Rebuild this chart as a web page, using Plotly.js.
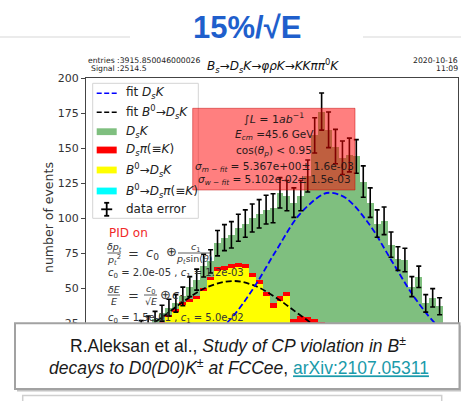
<!DOCTYPE html>
<html>
<head>
<meta charset="utf-8">
<script src="https://cdn.plot.ly/plotly-3.0.1.min.js"></script>
<style>
  html, body { margin: 0; padding: 0; background: #ffffff; }
  #chart { width: 461px; height: 401px; }
</style>
</head>
<body>
<div id="chart"></div>
<script>
// ---- histogram binning (invariant mass, GeV) ----
const binStart = 5.2;
const binWidth = 0.006;
const binCount = 44;

// ---- per-bin yields of the stacked components (bottom to top) ----
const b0DsK = [16, 19, 22, 25, 29, 33, 38, 40, 42, 48, 56, 62, 63, 64, 65, 64, 58, 53, 44, 36, 41, 44,
               20, 21, 20, 19, 17, 14, 12, 10, 8, 6, 5, 4, 3, 2, 2, 1, 1, 0, 0, 0, 0, 0];
const b0DsPi = [0, 0, 0, 0, 0, 0, 0, 0, 0, 0, 0, 0, 0, 0, 0, 0, 0, 0, 0, 0, 0, 0,
                0, 0, 0, 0, 0, 0, 0, 0, 0, 0, 0, 0, 0, 0, 0, 0, 0, 0, 0, 0, 0, 0];
const dsPi = [1, 1, 1, 1, 2, 2, 2, 2, 2, 2, 2, 3, 3, 3, 3, 3, 3, 3, 3, 3, 3, 3,
              8, 9, 9, 9, 9, 9, 8, 7, 6, 5, 4, 3, 3, 2, 2, 1, 1, 1, 1, 0, 0, 0];
const dsK = [5, 5, 5, 6, 5, 4, 4, 9, 12, 16, 11, 17, 20, 21, 25, 29, 39, 47, 59, 68, 74, 69,
             83, 86, 101, 131, 150, 140, 131, 126, 131, 133, 117, 104, 90, 94, 77, 69, 68, 50, 57, 39, 43, 37];

// ---- fitted shapes, sampled along the mass axis ----
const fitDsKMass = [5.20, 5.22, 5.24, 5.26, 5.28, 5.30, 5.32, 5.34, 5.36, 5.367, 5.38, 5.40, 5.42, 5.44, 5.46, 5.48];
const fitDsKVal  = [0.6, 1.9, 5.3, 13.1, 27.5, 49.8, 77.2, 102.6, 116.9, 118, 114.2, 95.7, 68.8, 42.4, 22.4, 10.2];
const fitB0Mass  = [5.16, 5.18, 5.20, 5.22, 5.24, 5.26, 5.282, 5.30, 5.32, 5.34, 5.36, 5.38, 5.40];
const fitB0Val   = [4.3, 9.3, 17.4, 28.5, 40.6, 50.6, 55, 52, 42.9, 30.9, 19.4, 10.6, 5.1];

const yTicks = [25, 50, 75, 100, 125, 150, 175, 200];

// ---- derived: bin centres, stack totals and their statistical errors ----
const centres = [];
for (let i = 0; i < binCount; i++) centres.push(binStart + binWidth * (i + 0.5));
const totals = centres.map((_, i) => b0DsK[i] + b0DsPi[i] + dsPi[i] + dsK[i]);
const statErr = totals.map(v => Math.sqrt(v));

// ---- figure geometry (pixels) and paper-coordinate helpers ----
const W = 461, H = 401;
const PL = 86, PR = 458, PT = 78, PB = 358;
const fx = px => (px - PL) / (PR - PL);
const fy = py => (PB - py) / (PB - PT);

const MPL = 'DejaVu Sans';
const SLIDE = 'Liberation Sans';

function label(text, px, py, size, opts) {
  opts = opts || {};
  return {
    text: text, xref: 'paper', yref: 'paper', x: fx(px), y: fy(py),
    xanchor: opts.xa || 'center', yanchor: opts.ya || 'middle',
    showarrow: false, borderpad: 0, textangle: opts.angle || 0,
    font: { family: opts.family || MPL, size: size, color: opts.color || '#222' }
  };
}
function rect(x0, y0, x1, y1, fill, line, lw) {
  return { type: 'rect', xref: 'paper', yref: 'paper', layer: 'above',
           x0: fx(x0), x1: fx(x1), y0: fy(y0), y1: fy(y1),
           fillcolor: fill, line: { color: line || 'rgba(0,0,0,0)', width: lw || 0 } };
}
function seg(x0, y0, x1, y1, color, lw, dash) {
  return { type: 'line', xref: 'paper', yref: 'paper', layer: 'above',
           x0: fx(x0), x1: fx(x1), y0: fy(y0), y1: fy(y1),
           line: { color: color, width: lw, dash: dash || 'solid' } };
}

// ---- traces ----
const barCommon = { type: 'bar', x: centres, width: binWidth, hoverinfo: 'skip' };
const traces = [
  Object.assign({}, barCommon, { y: b0DsK, name: 'B0→DsK', marker: { color: '#ffff00', line: { width: 0 } } }),
  Object.assign({}, barCommon, { y: b0DsPi, name: 'B0→Dsπ(≡K)', marker: { color: '#00ffff', line: { width: 0 } } }),
  Object.assign({}, barCommon, { y: dsPi, name: 'Dsπ(≡K)', marker: { color: '#ff0000', line: { width: 0 } } }),
  Object.assign({}, barCommon, { y: dsK, name: 'DsK', marker: { color: '#7fbf7f', line: { width: 0 } } }),
  { type: 'scatter', mode: 'lines', x: fitB0Mass, y: fitB0Val, name: 'fit B0→DsK',
    line: { color: '#000000', width: 1.8, dash: '6px,3px', shape: 'spline', smoothing: 1 }, hoverinfo: 'skip' },
  { type: 'scatter', mode: 'lines', x: fitDsKMass, y: fitDsKVal, name: 'fit DsK',
    line: { color: '#0000ff', width: 1.8, dash: '6px,3px', shape: 'spline', smoothing: 1 }, hoverinfo: 'skip' },
  { type: 'scatter', mode: 'markers', x: centres, y: totals, name: 'data error',
    marker: { size: 1, color: 'rgba(0,0,0,0)' },
    error_y: { type: 'data', array: statErr, visible: true, color: '#000000', thickness: 1.6, width: 2.5 },
    hoverinfo: 'skip' }
];

// ---- decorations: legend, info box, caption, slide frame ----
const shapes = [];
const annotations = [];

// slide header rule
shapes.push(seg(0, 37, 130, 37, '#e4e4e4', 1.5));
shapes.push(seg(363, 37, 461, 37, '#e4e4e4', 1.5));

// legend frame
shapes.push(rect(92.7, 83.3, 198.3, 218.3, 'rgba(255,255,255,0.85)', '#d4d4d4', 1));
const legY = [93.3, 112.3, 131.7, 150, 170, 191, 209.3];
shapes.push(seg(96.7, legY[0], 116.7, legY[0], '#0000ff', 1.6, '5px,2.5px'));
shapes.push(seg(96.7, legY[1], 116.7, legY[1], '#000000', 1.6, '5px,2.5px'));
shapes.push(rect(96.7, legY[2] - 3.4, 116.7, legY[2] + 3.4, '#7fbf7f'));
shapes.push(rect(96.7, legY[3] - 3.4, 116.7, legY[3] + 3.4, '#ff0000'));
shapes.push(rect(96.7, legY[4] - 3.4, 116.7, legY[4] + 3.4, '#ffff00'));
shapes.push(rect(96.7, legY[5] - 3.4, 116.7, legY[5] + 3.4, '#00ffff'));
// error-bar glyph
shapes.push(seg(106.7, legY[6] - 6.5, 106.7, legY[6] + 6.5, '#000', 1.8));
shapes.push(seg(101.2, legY[6], 112.2, legY[6], '#000', 1.8));
shapes.push(seg(104.2, legY[6] - 6.5, 109.2, legY[6] - 6.5, '#000', 1.8));
shapes.push(seg(104.2, legY[6] + 6.5, 109.2, legY[6] + 6.5, '#000', 1.8));
const legText = [
  'fit <i>D<sub>s</sub>K</i>',
  'fit <i>B</i><sup>0</sup>→<i>D<sub>s</sub>K</i>',
  '<i>D<sub>s</sub>K</i>',
  '<i>D<sub>s</sub>π</i>(≡<i>K</i>)',
  '<i>B</i><sup>0</sup>→<i>D<sub>s</sub>K</i>',
  '<i>B</i><sup>0</sup>→<i>D<sub>s</sub>π</i>(≡<i>K</i>)',
  'data error'
];
legText.forEach((t, i) => annotations.push(label(t, 125, legY[i], 12, { xa: 'left' })));

// translucent information box
shapes.push(rect(192.7, 108.3, 355, 190, 'rgba(255,0,0,0.5)', 'rgba(190,0,0,0.45)', 1));
const boxC = 274, boxCol = '#2a1a1a';
annotations.push(label('∫<i>L</i> = 1<i>ab</i><sup>−1</sup>', boxC, 118.5, 11, { color: boxCol }));
annotations.push(label('<i>E<sub>cm</sub></i> =45.6 GeV', boxC, 135, 10.5, { color: boxCol }));
annotations.push(label('cos(<i>θ<sub>p</sub></i>) &lt; 0.95', boxC, 150.5, 10.5, { color: boxCol }));
annotations.push(label('<i>σ<sub>m − fit</sub></i> = 5.367e+00± 1.6e-03', boxC, 166.5, 10.5, { color: boxCol }));
annotations.push(label('<i>σ<sub>w − fit</sub></i> = 5.102e-02± 1.5e-03', boxC, 180, 10.5, { color: boxCol }));

// resolution parametrisation
const fcol = '#333333';
annotations.push(label('PID on', 108.3, 233, 12, { xa: 'left', color: '#f02828' }));
annotations.push(label('<i>δp<sub>t</sub></i>', 114, 247.5, 9.5, { color: fcol }));
shapes.push(seg(107.5, 253, 121, 253, fcol, 0.8));
annotations.push(label('<i>p<sub>t</sub></i><sup>2</sup>', 114, 259.5, 9.5, { color: fcol }));
annotations.push(label('=', 133, 253, 13, { color: fcol }));
annotations.push(label('<i>c</i><sub>0</sub>', 152, 253, 13, { color: fcol }));
annotations.push(label('⊕', 171, 251.5, 13, { color: fcol }));
annotations.push(label('<i>c</i><sub>1</sub>', 195, 247.5, 9.5, { color: fcol }));
shapes.push(seg(178, 253, 210, 253, fcol, 0.8));
annotations.push(label('<i>p<sub>t</sub></i>sin(<i>θ</i>)', 194, 259.5, 9.5, { color: fcol }));
annotations.push(label('<i>c</i><sub>0</sub> = 2.0e-05 , <i>c</i><sub>1</sub> = 1.2e-03', 106.7, 273.5, 10, { xa: 'left', color: fcol }));
annotations.push(label('<i>δE</i>', 113.5, 289.5, 9.5, { color: fcol }));
shapes.push(seg(107.5, 295, 120, 295, fcol, 0.8));
annotations.push(label('<i>E</i>', 113.5, 301.5, 9.5, { color: fcol }));
annotations.push(label('=', 133, 295, 13, { color: fcol }));
annotations.push(label('<i>c</i><sub>0</sub>', 150.5, 289.5, 9.5, { color: fcol }));
shapes.push(seg(144, 295, 157, 295, fcol, 0.8));
annotations.push(label('√<i>E</i>', 150.5, 301.5, 9.5, { color: fcol }));
annotations.push(label('⊕', 165, 294, 13, { color: fcol }));
annotations.push(label('<i>c</i><sub>1</sub>', 178, 295, 13, { color: fcol }));
annotations.push(label('<i>c</i><sub>0</sub> = 1.5e-01 , <i>c</i><sub>1</sub> = 5.0e-02', 106.7, 318, 10, { xa: 'left', color: fcol }));

// header texts
annotations.push(label('entries :3915.850046000026', 87.3, 60.5, 7.7, { xa: 'left', color: '#222' }));
annotations.push(label('Signal :2514.5', 89.5, 68.5, 7.7, { xa: 'left', color: '#222' }));
annotations.push(label('<i>B<sub>s</sub></i>→<i>D<sub>s</sub>K</i>→<i>φρK</i>→<i>KKππ</i><sup>0</sup><i>K</i>', 272.5, 66, 12, { color: '#111' }));
annotations.push(label('2020-10-16', 459, 60.5, 7.7, { xa: 'right', color: '#222' }));
annotations.push(label('11:09', 459, 68.5, 7.7, { xa: 'right', color: '#222' }));
annotations.push(label('number of events', 48, 218, 12.5, { angle: -90, color: '#333' }));

// slide title
annotations.push(label('<b>15%/√E</b>', 246.7, 27.5, 31, { family: SLIDE, color: '#1f5fcc' }));

// caption panel
shapes.push(rect(22.7, 395.5, 441.7, 420, '#ffffff', '#cfcfcf', 1.5));
shapes.push(rect(17, 325.5, 462, 391.5, '#c4c4c4'));
shapes.push(rect(15, 323.3, 459.5, 389, '#ffffff', '#a2a2a2', 2));
annotations.push(label('R.Aleksan et al., <i>Study of CP violation in B</i><sup>±</sup>', 238, 345, 17.5, { family: SLIDE, color: '#1a1a1a' }));
annotations.push(label('<i>decays to D0(D0)K</i><sup>±</sup><i> at FCCee</i>, <span style="color:#1a9aaa;text-decoration:underline">arXiv:2107.05311</span>', 239, 367, 17.5, { family: SLIDE, color: '#1a1a1a' }));

const layout = {
  width: W, height: H,
  margin: { l: PL, r: W - PR, t: PT, b: H - PB, pad: 0 },
  paper_bgcolor: '#ffffff', plot_bgcolor: '#ffffff',
  showlegend: false,
  barmode: 'stack', bargap: 0,
  font: { family: MPL, color: '#333' },
  xaxis: { range: [5.1553, 5.4769], showline: true, mirror: true, linecolor: '#444', linewidth: 1,
           ticks: '', showticklabels: false, showgrid: false, zeroline: false, fixedrange: true },
  yaxis: { range: [0, 200], tickvals: yTicks, ticktext: yTicks.map(String), ticks: 'outside', ticklen: 4,
           tickcolor: '#444', tickwidth: 1, tickfont: { family: MPL, size: 11, color: '#333' },
           showline: true, mirror: true, linecolor: '#444', linewidth: 1,
           showgrid: false, zeroline: false, fixedrange: true },
  shapes: shapes,
  annotations: annotations
};

Plotly.newPlot('chart', traces, layout, { staticPlot: true, displayModeBar: false });
</script>
</body>
</html>
